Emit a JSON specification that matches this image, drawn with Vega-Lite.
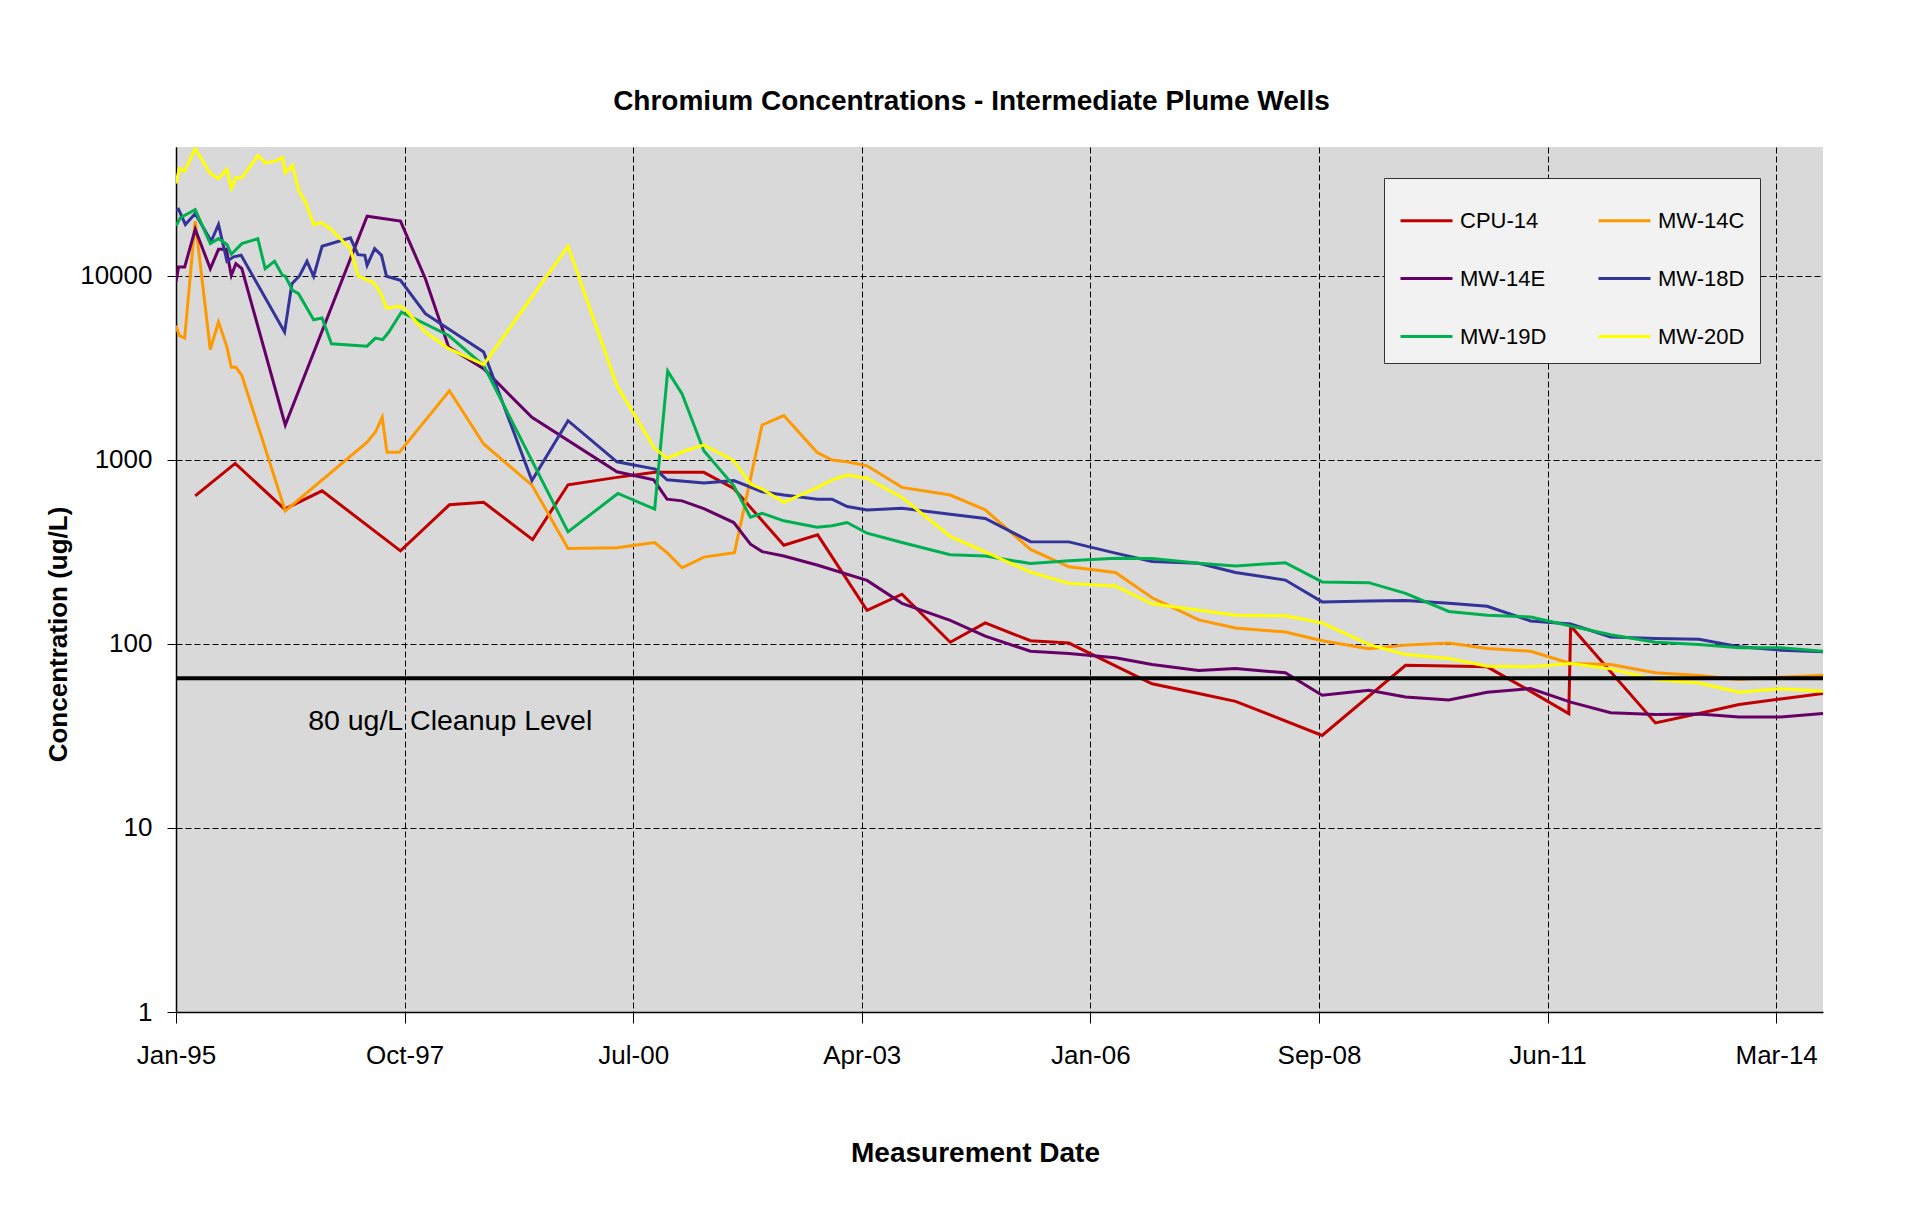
{
"$schema": "https://vega.github.io/schema/vega-lite/v6.json",
"width": 1647, "height": 865,
"autosize": {"type": "none"},
"padding": {"left": 176, "top": 147, "right": 84, "bottom": 211},
"background": "white",
"title": {"text": "Chromium Concentrations - Intermediate Plume Wells", "font": "Liberation Sans", "fontSize": 28, "fontWeight": "bold", "color": "black", "anchor": "middle", "frame": "group", "offset": 31, "dx": -28},
"datasets": {"wells": [
{"well":"CPU-14","date":"1995-04-15","value":637},{"well":"CPU-14","date":"1995-10-07","value":955},{"well":"CPU-14","date":"1996-05-10","value":539},{"well":"CPU-14","date":"1996-10-21","value":678},{"well":"CPU-14","date":"1997-09-29","value":320},{"well":"CPU-14","date":"1998-05-01","value":569},{"well":"CPU-14","date":"1998-09-28","value":587},{"well":"CPU-14","date":"1999-04-30","value":368},{"well":"CPU-14","date":"1999-10-02","value":731},{"well":"CPU-14","date":"2000-05-03","value":802},{"well":"CPU-14","date":"2000-10-15","value":854},{"well":"CPU-14","date":"2001-05-18","value":854},{"well":"CPU-14","date":"2001-09-26","value":698},{"well":"CPU-14","date":"2002-05-03","value":343},{"well":"CPU-14","date":"2002-09-28","value":391},{"well":"CPU-14","date":"2003-05-02","value":152},{"well":"CPU-14","date":"2003-10-02","value":186},{"well":"CPU-14","date":"2004-04-30","value":102},{"well":"CPU-14","date":"2004-09-30","value":130},{"well":"CPU-14","date":"2005-04-16","value":104},{"well":"CPU-14","date":"2005-10-01","value":101},{"well":"CPU-14","date":"2006-09-30","value":60.7},{"well":"CPU-14","date":"2007-04-22","value":53.7},{"well":"CPU-14","date":"2007-09-30","value":48.7},{"well":"CPU-14","date":"2008-10-13","value":31.8},{"well":"CPU-14","date":"2009-10-13","value":76.5},{"well":"CPU-14","date":"2010-04-20","value":75.8},{"well":"CPU-14","date":"2010-10-05","value":75.0},{"well":"CPU-14","date":"2011-04-13","value":55.2},{"well":"CPU-14","date":"2011-09-27","value":41.8},{"well":"CPU-14","date":"2011-10-05","value":125},{"well":"CPU-14","date":"2012-10-10","value":37.2},{"well":"CPU-14","date":"2013-04-18","value":41.8},{"well":"CPU-14","date":"2013-10-11","value":46.8},{"well":"CPU-14","date":"2014-04-11","value":50.2},{"well":"CPU-14","date":"2014-10-13","value":53.7},
{"well":"MW-14C","date":"1995-01-21","value":5360},{"well":"MW-14C","date":"1995-02-04","value":4730},{"well":"MW-14C","date":"1995-02-28","value":4580},{"well":"MW-14C","date":"1995-04-15","value":19780},{"well":"MW-14C","date":"1995-06-20","value":3970},{"well":"MW-14C","date":"1995-07-26","value":5600},{"well":"MW-14C","date":"1995-09-01","value":4090},{"well":"MW-14C","date":"1995-09-20","value":3180},{"well":"MW-14C","date":"1995-10-10","value":3180},{"well":"MW-14C","date":"1995-11-05","value":2870},{"well":"MW-14C","date":"1996-05-13","value":527},{"well":"MW-14C","date":"1997-05-06","value":1245},{"well":"MW-14C","date":"1997-06-11","value":1410},{"well":"MW-14C","date":"1997-07-11","value":1700},{"well":"MW-14C","date":"1997-08-01","value":1097},{"well":"MW-14C","date":"1997-09-24","value":1097},{"well":"MW-14C","date":"1998-05-01","value":2370},{"well":"MW-14C","date":"1998-09-28","value":1218},{"well":"MW-14C","date":"1999-04-27","value":728},{"well":"MW-14C","date":"1999-10-02","value":330},{"well":"MW-14C","date":"2000-05-03","value":333},{"well":"MW-14C","date":"2000-10-15","value":355},{"well":"MW-14C","date":"2000-12-08","value":313},{"well":"MW-14C","date":"2001-02-12","value":259},{"well":"MW-14C","date":"2001-05-18","value":296},{"well":"MW-14C","date":"2001-09-29","value":313},{"well":"MW-14C","date":"2002-01-28","value":1545},{"well":"MW-14C","date":"2002-05-03","value":1738},{"well":"MW-14C","date":"2002-09-25","value":1097},{"well":"MW-14C","date":"2002-11-30","value":996},{"well":"MW-14C","date":"2003-02-04","value":976},{"well":"MW-14C","date":"2003-05-02","value":927},{"well":"MW-14C","date":"2003-10-02","value":708},{"well":"MW-14C","date":"2004-04-30","value":643},{"well":"MW-14C","date":"2004-09-30","value":535},{"well":"MW-14C","date":"2005-04-16","value":326},{"well":"MW-14C","date":"2005-10-01","value":262},{"well":"MW-14C","date":"2006-04-23","value":244},{"well":"MW-14C","date":"2006-09-30","value":178},{"well":"MW-14C","date":"2007-04-22","value":135},{"well":"MW-14C","date":"2007-09-30","value":122},{"well":"MW-14C","date":"2008-05-05","value":116},{"well":"MW-14C","date":"2008-10-13","value":104},{"well":"MW-14C","date":"2009-05-05","value":94.1},{"well":"MW-14C","date":"2009-10-13","value":98.4},{"well":"MW-14C","date":"2010-04-20","value":101},{"well":"MW-14C","date":"2010-10-05","value":94.4},{"well":"MW-14C","date":"2011-04-13","value":91.2},{"well":"MW-14C","date":"2011-10-05","value":78.2},{"well":"MW-14C","date":"2012-03-28","value":77.2},{"well":"MW-14C","date":"2012-10-10","value":69.6},{"well":"MW-14C","date":"2013-04-18","value":67.3},{"well":"MW-14C","date":"2013-10-11","value":64},{"well":"MW-14C","date":"2014-04-11","value":65.9},{"well":"MW-14C","date":"2014-10-13","value":67.6},
{"well":"MW-14E","date":"1995-01-21","value":9250},{"well":"MW-14E","date":"1995-02-01","value":11150},{"well":"MW-14E","date":"1995-02-28","value":11150},{"well":"MW-14E","date":"1995-04-15","value":17870},{"well":"MW-14E","date":"1995-06-20","value":10920},{"well":"MW-14E","date":"1995-07-26","value":13900},{"well":"MW-14E","date":"1995-08-29","value":13900},{"well":"MW-14E","date":"1995-09-20","value":10030},{"well":"MW-14E","date":"1995-10-10","value":11620},{"well":"MW-14E","date":"1995-11-05","value":10920},{"well":"MW-14E","date":"1996-05-13","value":1545},{"well":"MW-14E","date":"1997-05-06","value":21040},{"well":"MW-14E","date":"1997-09-29","value":19780},{"well":"MW-14E","date":"1998-01-16","value":9630},{"well":"MW-14E","date":"1998-04-28","value":4090},{"well":"MW-14E","date":"1998-09-28","value":3120},{"well":"MW-14E","date":"1999-04-27","value":1700},{"well":"MW-14E","date":"2000-05-03","value":860},{"well":"MW-14E","date":"2000-10-11","value":778},{"well":"MW-14E","date":"2000-12-08","value":611},{"well":"MW-14E","date":"2001-02-12","value":598},{"well":"MW-14E","date":"2001-05-18","value":543},{"well":"MW-14E","date":"2001-09-26","value":456},{"well":"MW-14E","date":"2001-12-08","value":348},{"well":"MW-14E","date":"2002-01-28","value":317},{"well":"MW-14E","date":"2002-05-03","value":300},{"well":"MW-14E","date":"2002-09-25","value":268},{"well":"MW-14E","date":"2003-05-02","value":221},{"well":"MW-14E","date":"2003-10-02","value":166},{"well":"MW-14E","date":"2004-04-30","value":134},{"well":"MW-14E","date":"2004-09-30","value":110},{"well":"MW-14E","date":"2005-04-16","value":91.2},{"well":"MW-14E","date":"2005-10-01","value":88.6},{"well":"MW-14E","date":"2006-04-23","value":84},{"well":"MW-14E","date":"2006-09-30","value":77.2},{"well":"MW-14E","date":"2007-04-22","value":71.6},{"well":"MW-14E","date":"2007-09-30","value":73.4},{"well":"MW-14E","date":"2008-05-05","value":69.6},{"well":"MW-14E","date":"2008-10-13","value":52.6},{"well":"MW-14E","date":"2009-05-05","value":56},{"well":"MW-14E","date":"2009-10-13","value":51.5},{"well":"MW-14E","date":"2010-04-20","value":49.5},{"well":"MW-14E","date":"2010-10-05","value":54.6},{"well":"MW-14E","date":"2011-04-13","value":57.2},{"well":"MW-14E","date":"2011-10-05","value":48.2},{"well":"MW-14E","date":"2012-03-28","value":42.2},{"well":"MW-14E","date":"2012-10-10","value":41.3},{"well":"MW-14E","date":"2013-04-18","value":41.6},{"well":"MW-14E","date":"2013-10-11","value":40.1},{"well":"MW-14E","date":"2014-04-11","value":40.1},{"well":"MW-14E","date":"2014-10-13","value":41.8},
{"well":"MW-18D","date":"1995-01-21","value":22650},{"well":"MW-18D","date":"1995-02-01","value":22960},{"well":"MW-18D","date":"1995-03-03","value":18970},{"well":"MW-18D","date":"1995-04-15","value":21770},{"well":"MW-18D","date":"1995-06-24","value":15380},{"well":"MW-18D","date":"1995-07-26","value":18970},{"well":"MW-18D","date":"1995-09-01","value":11970},{"well":"MW-18D","date":"1995-09-30","value":12650},{"well":"MW-18D","date":"1995-11-02","value":12900},{"well":"MW-18D","date":"1996-05-10","value":4940},{"well":"MW-18D","date":"1996-06-11","value":9040},{"well":"MW-18D","date":"1996-07-14","value":9960},{"well":"MW-18D","date":"1996-08-16","value":11970},{"well":"MW-18D","date":"1996-09-14","value":9920},{"well":"MW-18D","date":"1996-10-21","value":14450},{"well":"MW-18D","date":"1997-02-22","value":16040},{"well":"MW-18D","date":"1997-03-27","value":13010},{"well":"MW-18D","date":"1997-04-26","value":12900},{"well":"MW-18D","date":"1997-05-06","value":11380},{"well":"MW-18D","date":"1997-06-08","value":14020},{"well":"MW-18D","date":"1997-07-08","value":12900},{"well":"MW-18D","date":"1997-07-30","value":9920},{"well":"MW-18D","date":"1997-09-29","value":9430},{"well":"MW-18D","date":"1998-01-16","value":6210},{"well":"MW-18D","date":"1998-09-28","value":3850},{"well":"MW-18D","date":"1999-04-27","value":770},{"well":"MW-18D","date":"1999-10-02","value":1630},{"well":"MW-18D","date":"2000-05-03","value":975},{"well":"MW-18D","date":"2000-10-18","value":890},{"well":"MW-18D","date":"2000-12-08","value":778},{"well":"MW-18D","date":"2001-05-18","value":747},{"well":"MW-18D","date":"2001-09-26","value":770},{"well":"MW-18D","date":"2002-01-28","value":670},{"well":"MW-18D","date":"2002-05-03","value":643},{"well":"MW-18D","date":"2002-09-28","value":611},{"well":"MW-18D","date":"2002-11-30","value":611},{"well":"MW-18D","date":"2003-02-04","value":557},{"well":"MW-18D","date":"2003-05-02","value":534},{"well":"MW-18D","date":"2003-10-02","value":545},{"well":"MW-18D","date":"2004-04-30","value":506},{"well":"MW-18D","date":"2004-09-30","value":480},{"well":"MW-18D","date":"2005-04-16","value":359},{"well":"MW-18D","date":"2005-10-01","value":358},{"well":"MW-18D","date":"2006-04-23","value":311},{"well":"MW-18D","date":"2006-09-30","value":280},{"well":"MW-18D","date":"2007-04-22","value":274},{"well":"MW-18D","date":"2007-09-30","value":244},{"well":"MW-18D","date":"2008-05-05","value":222},{"well":"MW-18D","date":"2008-10-13","value":169},{"well":"MW-18D","date":"2009-05-05","value":171},{"well":"MW-18D","date":"2009-10-13","value":172},{"well":"MW-18D","date":"2010-04-20","value":166},{"well":"MW-18D","date":"2010-10-05","value":160},{"well":"MW-18D","date":"2011-04-13","value":133},{"well":"MW-18D","date":"2011-10-05","value":128},{"well":"MW-18D","date":"2012-03-28","value":109},{"well":"MW-18D","date":"2012-10-10","value":107},{"well":"MW-18D","date":"2013-04-18","value":106},{"well":"MW-18D","date":"2013-10-11","value":96.4},{"well":"MW-18D","date":"2014-04-11","value":92.4},{"well":"MW-18D","date":"2014-10-13","value":90.6},
{"well":"MW-19D","date":"1995-01-21","value":18680},{"well":"MW-19D","date":"1995-02-09","value":20630},{"well":"MW-19D","date":"1995-04-15","value":22860},{"well":"MW-19D","date":"1995-06-20","value":14930},{"well":"MW-19D","date":"1995-07-26","value":15890},{"well":"MW-19D","date":"1995-09-01","value":14750},{"well":"MW-19D","date":"1995-09-20","value":13070},{"well":"MW-19D","date":"1995-11-05","value":14930},{"well":"MW-19D","date":"1996-01-14","value":15890},{"well":"MW-19D","date":"1996-02-15","value":10920},{"well":"MW-19D","date":"1996-03-27","value":11970},{"well":"MW-19D","date":"1996-05-01","value":10030},{"well":"MW-19D","date":"1996-05-13","value":9960},{"well":"MW-19D","date":"1996-06-14","value":8320},{"well":"MW-19D","date":"1996-07-10","value":7980},{"well":"MW-19D","date":"1996-09-14","value":5760},{"well":"MW-19D","date":"1996-10-21","value":5890},{"well":"MW-19D","date":"1996-12-01","value":4270},{"well":"MW-19D","date":"1997-05-06","value":4140},{"well":"MW-19D","date":"1997-06-11","value":4580},{"well":"MW-19D","date":"1997-07-13","value":4490},{"well":"MW-19D","date":"1997-08-09","value":4940},{"well":"MW-19D","date":"1997-10-03","value":6340},{"well":"MW-19D","date":"1998-04-28","value":4730},{"well":"MW-19D","date":"1998-09-28","value":3250},{"well":"MW-19D","date":"1999-10-02","value":406},{"well":"MW-19D","date":"2000-05-07","value":656},{"well":"MW-19D","date":"2000-10-15","value":540},{"well":"MW-19D","date":"2000-12-11","value":3030},{"well":"MW-19D","date":"2001-02-12","value":2280},{"well":"MW-19D","date":"2001-05-18","value":1119},{"well":"MW-19D","date":"2001-09-26","value":722},{"well":"MW-19D","date":"2001-12-08","value":487},{"well":"MW-19D","date":"2002-01-28","value":512},{"well":"MW-19D","date":"2002-05-03","value":466},{"well":"MW-19D","date":"2002-09-25","value":430},{"well":"MW-19D","date":"2002-11-30","value":438},{"well":"MW-19D","date":"2003-02-04","value":456},{"well":"MW-19D","date":"2003-05-02","value":399},{"well":"MW-19D","date":"2003-10-02","value":355},{"well":"MW-19D","date":"2004-04-30","value":305},{"well":"MW-19D","date":"2004-09-30","value":300},{"well":"MW-19D","date":"2005-04-16","value":273},{"well":"MW-19D","date":"2005-10-01","value":283},{"well":"MW-19D","date":"2006-04-23","value":292},{"well":"MW-19D","date":"2006-09-30","value":291},{"well":"MW-19D","date":"2007-04-22","value":274},{"well":"MW-19D","date":"2007-09-30","value":265},{"well":"MW-19D","date":"2008-05-05","value":276},{"well":"MW-19D","date":"2008-10-13","value":217},{"well":"MW-19D","date":"2009-05-05","value":215},{"well":"MW-19D","date":"2009-10-13","value":188},{"well":"MW-19D","date":"2010-04-20","value":150},{"well":"MW-19D","date":"2010-10-05","value":143},{"well":"MW-19D","date":"2011-04-13","value":140},{"well":"MW-19D","date":"2011-10-05","value":125},{"well":"MW-19D","date":"2012-03-28","value":112},{"well":"MW-19D","date":"2012-10-10","value":102},{"well":"MW-19D","date":"2013-04-18","value":99.3},{"well":"MW-19D","date":"2013-10-11","value":95.2},{"well":"MW-19D","date":"2014-04-11","value":95.2},{"well":"MW-19D","date":"2014-10-13","value":91.2},
{"well":"MW-20D","date":"1995-01-21","value":31700},{"well":"MW-20D","date":"1995-02-04","value":38200},{"well":"MW-20D","date":"1995-02-28","value":37000},{"well":"MW-20D","date":"1995-04-15","value":49000},{"well":"MW-20D","date":"1995-06-20","value":35900},{"well":"MW-20D","date":"1995-07-26","value":33700},{"well":"MW-20D","date":"1995-09-01","value":37800},{"well":"MW-20D","date":"1995-09-20","value":29800},{"well":"MW-20D","date":"1995-10-10","value":34000},{"well":"MW-20D","date":"1995-11-05","value":34000},{"well":"MW-20D","date":"1996-01-14","value":44900},{"well":"MW-20D","date":"1996-02-15","value":41000},{"well":"MW-20D","date":"1996-03-30","value":41900},{"well":"MW-20D","date":"1996-05-01","value":43900},{"well":"MW-20D","date":"1996-05-13","value":36200},{"well":"MW-20D","date":"1996-06-14","value":39800},{"well":"MW-20D","date":"1996-07-10","value":29100},{"well":"MW-20D","date":"1996-08-09","value":25200},{"well":"MW-20D","date":"1996-09-14","value":18950},{"well":"MW-20D","date":"1996-10-18","value":19400},{"well":"MW-20D","date":"1996-11-26","value":18000},{"well":"MW-20D","date":"1997-02-22","value":14000},{"well":"MW-20D","date":"1997-03-27","value":9960},{"well":"MW-20D","date":"1997-04-29","value":9550},{"well":"MW-20D","date":"1997-06-04","value":9160},{"well":"MW-20D","date":"1997-07-03","value":8080},{"well":"MW-20D","date":"1997-07-30","value":6660},{"well":"MW-20D","date":"1997-09-29","value":6840},{"well":"MW-20D","date":"1997-10-21","value":6530},{"well":"MW-20D","date":"1998-01-16","value":4940},{"well":"MW-20D","date":"1998-04-28","value":4010},{"well":"MW-20D","date":"1998-09-28","value":3290},{"well":"MW-20D","date":"1999-10-02","value":14450},{"well":"MW-20D","date":"2000-05-03","value":2530},{"well":"MW-20D","date":"2000-10-11","value":1168},{"well":"MW-20D","date":"2000-12-08","value":1018},{"well":"MW-20D","date":"2001-02-19","value":1112},{"well":"MW-20D","date":"2001-05-18","value":1202},{"well":"MW-20D","date":"2001-09-26","value":989},{"well":"MW-20D","date":"2001-12-08","value":738},{"well":"MW-20D","date":"2002-01-28","value":693},{"well":"MW-20D","date":"2002-05-03","value":587},{"well":"MW-20D","date":"2002-09-28","value":708},{"well":"MW-20D","date":"2002-11-30","value":778},{"well":"MW-20D","date":"2003-02-04","value":826},{"well":"MW-20D","date":"2003-05-02","value":793},{"well":"MW-20D","date":"2003-10-02","value":624},{"well":"MW-20D","date":"2004-04-30","value":383},{"well":"MW-20D","date":"2004-09-30","value":316},{"well":"MW-20D","date":"2005-04-16","value":245},{"well":"MW-20D","date":"2005-10-01","value":213},{"well":"MW-20D","date":"2006-04-23","value":206},{"well":"MW-20D","date":"2006-09-30","value":165},{"well":"MW-20D","date":"2007-04-22","value":152},{"well":"MW-20D","date":"2007-09-30","value":143},{"well":"MW-20D","date":"2008-05-05","value":142},{"well":"MW-20D","date":"2008-10-13","value":130},{"well":"MW-20D","date":"2009-05-05","value":99.3},{"well":"MW-20D","date":"2009-10-13","value":87.6},{"well":"MW-20D","date":"2010-04-20","value":83.2},{"well":"MW-20D","date":"2010-10-05","value":75.6},{"well":"MW-20D","date":"2011-04-13","value":75.1},{"well":"MW-20D","date":"2011-10-05","value":78.2},{"well":"MW-20D","date":"2012-03-28","value":73.1},{"well":"MW-20D","date":"2012-10-10","value":64},{"well":"MW-20D","date":"2013-04-18","value":61.3},{"well":"MW-20D","date":"2013-10-11","value":54.6},{"well":"MW-20D","date":"2014-04-11","value":57},{"well":"MW-20D","date":"2014-10-13","value":55.3}
]},
"layer": [
{"data": {"name": "wells"},
 "mark": {"type": "line", "strokeWidth": 3, "clip": true},
 "encoding": {
  "x": {"field": "date", "type": "temporal",
   "scale": {"type": "utc", "nice": false, "domain": [{"year":1995,"month":1,"date":21,"utc":true},{"year":2014,"month":10,"date":13,"utc":true}]},
   "axis": {"values": [{"year":1995,"month":1,"date":21,"utc":true},{"year":1997,"month":10,"date":17,"utc":true},{"year":2000,"month":7,"date":13,"utc":true},{"year":2003,"month":4,"date":9,"utc":true},{"year":2006,"month":1,"date":3,"utc":true},{"year":2008,"month":9,"date":29,"utc":true},{"year":2011,"month":6,"date":26,"utc":true},{"year":2014,"month":3,"date":22,"utc":true}],
    "format": "%b-%y", "title": "Measurement Date", "titleFont": "Liberation Sans", "titleFontSize": 28, "titleFontWeight": "bold", "titleColor": "black", "titleX": 799, "titleY": 141, "titleBaseline": "middle",
    "labelFont": "Liberation Sans", "labelFontSize": 26, "labelColor": "black", "labelPadding": 19, "labelFlush": false, "labelOverlap": false,
    "tickSize": 11, "tickColor": "black", "domainColor": "black", "domainWidth": 1.5,
    "grid": true, "gridColor": "black", "gridDash": [6, 3], "gridWidth": 1}},
  "y": {"field": "value", "type": "quantitative",
   "scale": {"type": "log", "nice": false, "domain": [1, 50000]},
   "axis": {"values": [1, 10, 100, 1000, 10000], "format": "d", "title": "Concentration (ug/L)", "titleFont": "Liberation Sans", "titleFontSize": 26, "titleFontWeight": "bold", "titleColor": "black", "titleX": -118, "titleY": 487, "titleBaseline": "middle",
    "labelFont": "Liberation Sans", "labelFontSize": 26, "labelColor": "black", "labelPadding": 15, "labelOverlap": false,
    "tickSize": 9, "tickColor": "black", "domainColor": "black", "domainWidth": 1.5,
    "grid": true, "gridColor": "black", "gridDash": [6, 3], "gridWidth": 1}},
  "color": {"field": "well", "type": "nominal",
   "scale": {"domain": ["CPU-14", "MW-14E", "MW-19D", "MW-14C", "MW-18D", "MW-20D"], "range": ["#C00000", "#660066", "#00B050", "#FF9900", "#333399", "#FFFF00"]},
   "legend": {"title": null, "orient": "none", "legendX": 1208, "legendY": 31, "columns": 2, "symbolType": "stroke", "symbolSize": 2700, "symbolStrokeWidth": 3, "labelFont": "Liberation Sans", "labelFontSize": 22, "labelColor": "black", "labelOffset": 6, "columnPadding": 45, "rowPadding": 19, "padding": 15, "fillColor": "#F2F2F2", "strokeColor": "#333333"}}
 }},
{"data": {"values": [{}]},
 "mark": {"type": "rule", "strokeWidth": 4, "color": "black"},
 "encoding": {"y": {"datum": 65, "type": "quantitative"}}},
{"data": {"values": [{}]},
 "mark": {"type": "text", "align": "left", "baseline": "middle", "font": "Liberation Sans", "fontSize": 28.5, "color": "black"},
 "encoding": {"x": {"datum": {"year":1996,"month":8,"date":21,"utc":true}, "type": "temporal"}, "y": {"datum": 38.3, "type": "quantitative"}, "text": {"value": "80 ug/L Cleanup Level"}}}
],
"config": {"view": {"fill": "#D9D9D9", "stroke": null}}
}
